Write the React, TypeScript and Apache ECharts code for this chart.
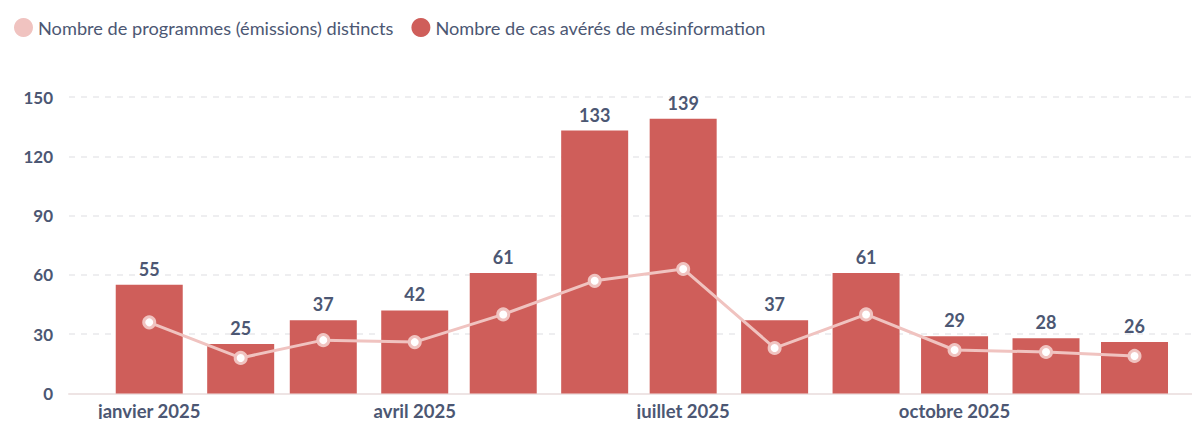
import React, { useEffect, useRef } from "react";
import * as echarts from "echarts";

// ---- Data ----
const months: string[] = [
  "2025-01", "2025-02", "2025-03", "2025-04", "2025-05", "2025-06",
  "2025-07", "2025-08", "2025-09", "2025-10", "2025-11", "2025-12",
];
const casAveres: number[] = [55, 25, 37, 42, 61, 133, 139, 37, 61, 29, 28, 26];
const programmesDistincts: number[] = [36, 18, 27, 26, 40, 57, 63, 23, 40, 22, 21, 19];
const xTickMonths: string[] = ["2025-01", "2025-04", "2025-07", "2025-10"];
const monthNamesFr: string[] = [
  "janvier", "février", "mars", "avril", "mai", "juin",
  "juillet", "août", "septembre", "octobre", "novembre", "décembre",
];
const yTicks: number[] = [0, 30, 60, 90, 120, 150];

const SERIES_LINE = "Nombre de programmes (émissions) distincts";
const SERIES_BAR = "Nombre de cas avérés de mésinformation";

const DAY = 86400000;
const toTs = (m: string) => {
  const [y, mo] = m.split("-").map(Number);
  return new Date(y, mo - 1, 1).getTime();
};

const TEXT = "#4C5773";
const BAR = "#CF5E5A";
const LINE = "#F0C3C0";

export default function App() {
  const ref = useRef<HTMLDivElement>(null);

  useEffect(() => {
    if (!ref.current) return;
    const chart = echarts.init(ref.current, undefined, { renderer: "svg" });
    const xs = months.map(toTs);
    const option: any = {
      animation: false,
      textStyle: { fontFamily: "Lato" },
      legend: {
        left: 9,
        top: 13,
        itemWidth: 19,
        itemHeight: 19,
        itemGap: 18,
        icon: "circle",
        textStyle: { color: TEXT, fontSize: 18.2, fontFamily: "Lato" },
        data: [
          { name: SERIES_LINE, itemStyle: { color: LINE, borderWidth: 0 } },
          { name: SERIES_BAR, itemStyle: { color: BAR, borderWidth: 0 } },
        ],
      },
      grid: { left: 69, right: 0, top: 97, bottom: 33.5 },
      xAxis: {
        type: "value",
        min: xs[0] - 27.2 * DAY,
        max: xs[xs.length - 1] + 22.2 * DAY,
        axisLine: { show: true, onZero: false, lineStyle: { color: "#EEE4E4", width: 2 } },
        axisTick: { show: false },
        splitLine: { show: false },
        axisLabel: {
          customValues: xTickMonths.map(toTs),
          color: TEXT,
          fontSize: 18.5,
          fontWeight: "bold",
          fontFamily: "Lato",
          margin: 8,
          hideOverlap: false,
          formatter: (v: number) => {
            const d = new Date(v);
            return `${monthNamesFr[d.getMonth()]} ${d.getFullYear()}`;
          },
        },
      },
      yAxis: {
        type: "value",
        min: yTicks[0],
        max: yTicks[yTicks.length - 1],
        interval: yTicks[1] - yTicks[0],
        axisLine: { show: false },
        axisTick: { show: false },
        axisLabel: {
          color: TEXT,
          fontSize: 17,
          fontWeight: "bold",
          fontFamily: "Lato",
          margin: 16,
        },
        splitLine: {
          show: true,
          lineStyle: { color: "#E9E9EB", type: [6, 6], width: 1.5 },
        },
      },
      series: [
        {
          name: SERIES_BAR,
          type: "bar",
          barWidth: 67,
          data: xs.map((x, i) => [x, casAveres[i]]),
          itemStyle: { color: BAR },
          label: {
            show: true,
            position: "top",
            distance: 7,
            color: TEXT,
            fontSize: 18,
            fontWeight: "bold",
            fontFamily: "Lato",
            formatter: (p: any) => String(p.value[1]),
          },
          z: 2,
        },
        {
          name: SERIES_LINE,
          type: "line",
          data: xs.map((x, i) => [x, programmesDistincts[i]]),
          symbol: "circle",
          symbolSize: 11,
          lineStyle: { color: LINE, width: 3 },
          itemStyle: { color: "#FFFFFF", borderColor: LINE, borderWidth: 3 },
          z: 3,
        },
      ],
    };
    chart.setOption(option);
    return () => chart.dispose();
  }, []);

  return <div ref={ref} style={{ width: 1200, height: 427, margin: -8 }} />;
}
